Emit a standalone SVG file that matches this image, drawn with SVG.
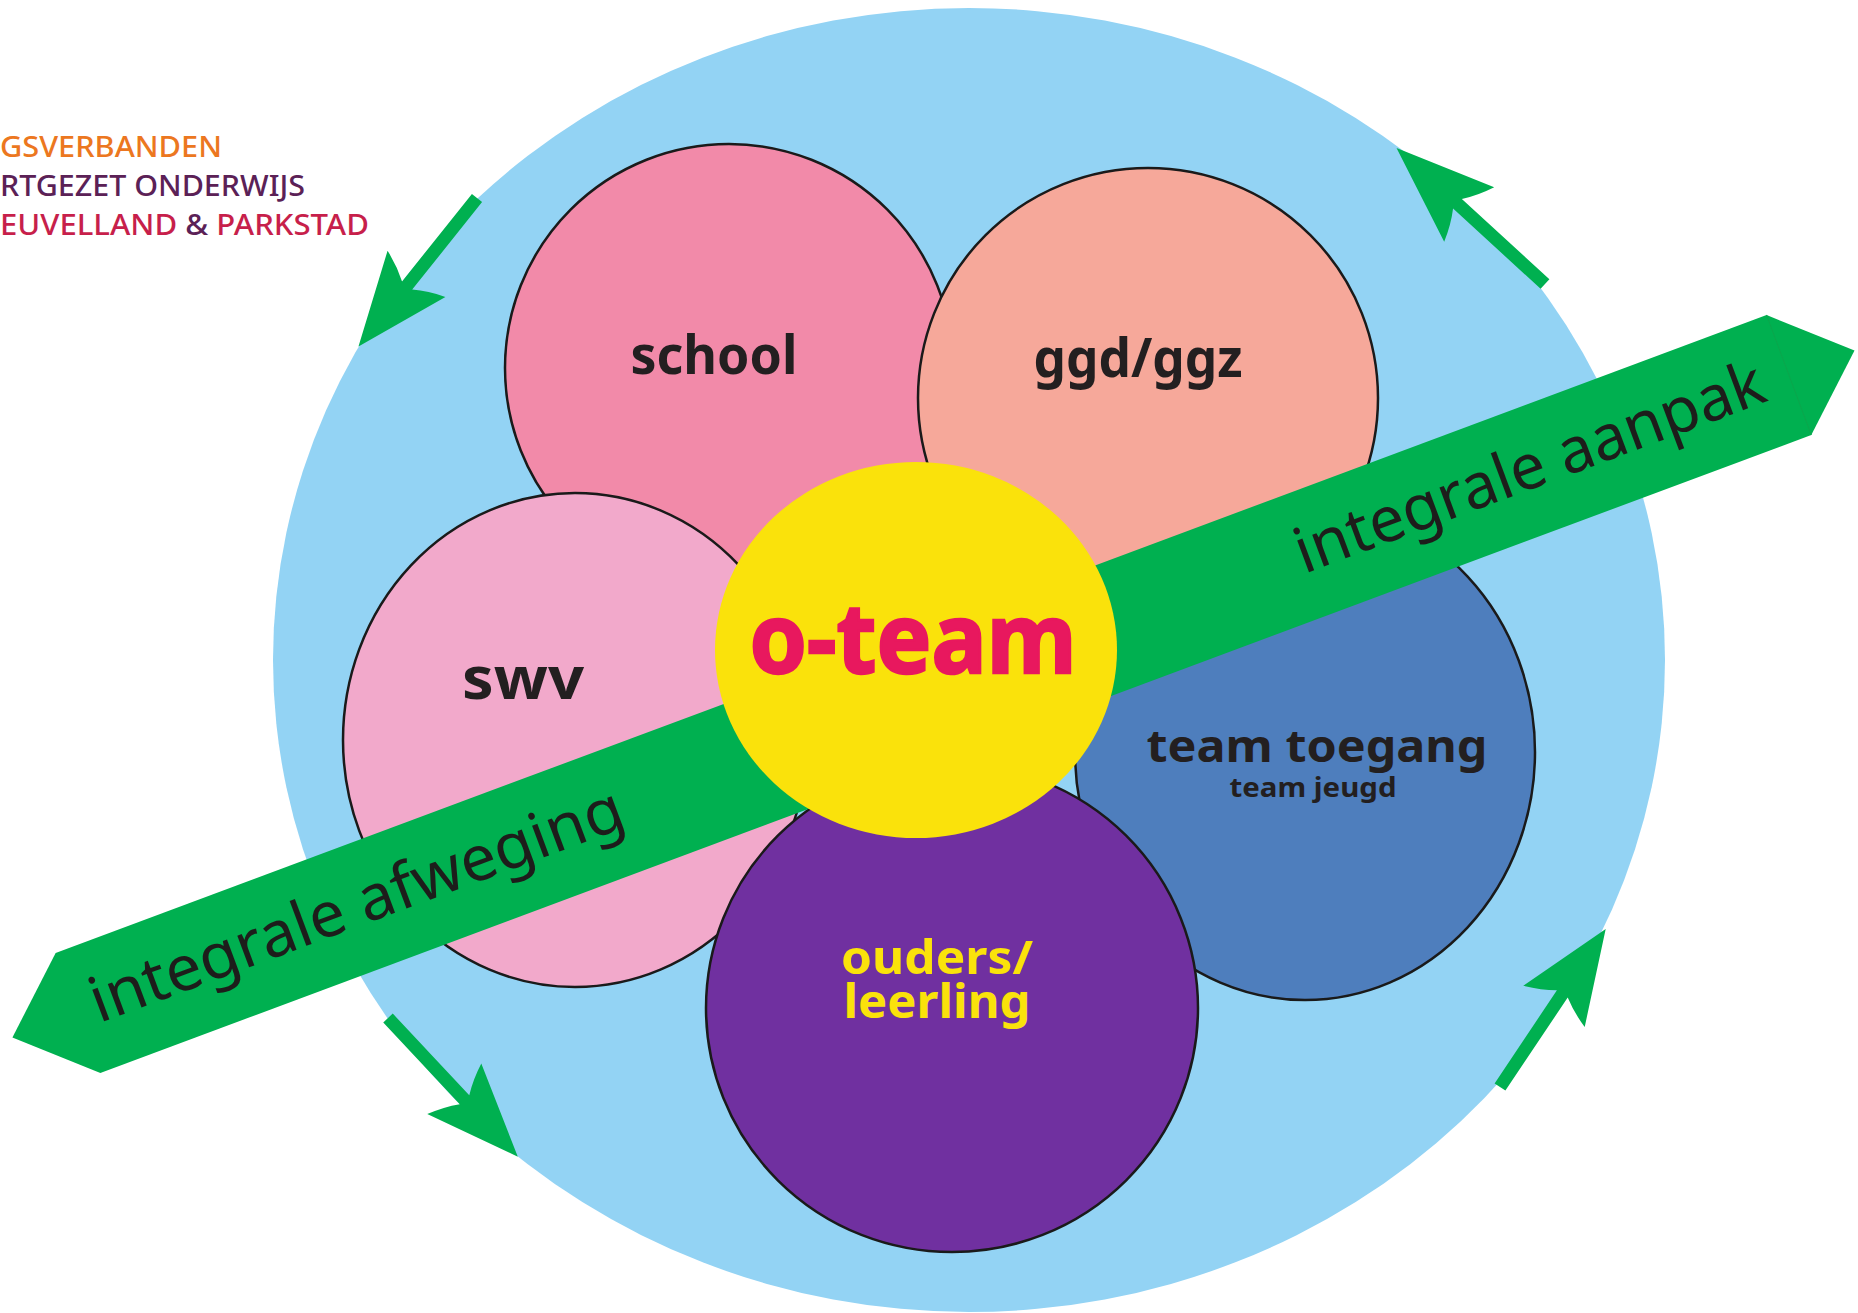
<svg xmlns="http://www.w3.org/2000/svg" xmlns:xlink="http://www.w3.org/1999/xlink" width="1858" height="1313" viewBox="0 0 1858 1313">
<style>
.node{stroke:#1a1a1a;stroke-width:2.5}
.lbl{font-family:"Noto Sans","Open Sans",sans-serif;font-weight:700;fill:#231F20;text-anchor:middle}
.band-txt{font-family:"Noto Sans","Open Sans",sans-serif;font-weight:400;fill:#1d1d1b;font-size:63px}
.hdr{font-family:"Noto Sans","Open Sans",sans-serif;font-weight:500;font-size:29px}
.arw{fill:#00B050}
</style>
<defs>
<path id="arr" d="M0,-6.5 L112,-6.5 Q103,-20 97,-37 L190,0 L97,37 Q103,20 112,6.5 L0,6.5 Z"/>
</defs>
<rect width="1858" height="1313" fill="#ffffff"/>
<g id="header">
<text class="hdr" x="0" y="157" fill="#EC7720" textLength="222" lengthAdjust="spacingAndGlyphs">GSVERBANDEN</text>
<text class="hdr" x="0" y="196" fill="#5B2156" textLength="305" lengthAdjust="spacingAndGlyphs">RTGEZET ONDERWIJS</text>
<text class="hdr" x="0" y="235" fill="#C71F4B" textLength="369" lengthAdjust="spacingAndGlyphs">EUVELLAND <tspan fill="#5B2156">&amp;</tspan> PARKSTAD</text>
</g>
<g id="ring">
<ellipse cx="969" cy="660" rx="696" ry="652" fill="#93D3F4"/>
</g>
<g id="school">
<circle class="node" cx="729" cy="368" r="224" fill="#F28AA9"/>
<text class="lbl" x="714" y="374" font-size="53" textLength="167" lengthAdjust="spacingAndGlyphs">school</text>
</g>
<g id="team-toegang">
<ellipse class="node" cx="1305" cy="752" rx="230" ry="248" fill="#4E7EBD"/>
<text class="lbl"><tspan x="1317" y="762" font-size="45" textLength="341" lengthAdjust="spacingAndGlyphs">team toegang</tspan><tspan x="1313" y="797" font-size="27" textLength="167" lengthAdjust="spacingAndGlyphs">team jeugd</tspan></text>
</g>
<g id="ggd">
<circle class="node" cx="1148" cy="398" r="230" fill="#F6A89A"/>
<text class="lbl" x="1138" y="377" font-size="53" textLength="209" lengthAdjust="spacingAndGlyphs">ggd/ggz</text>
</g>
<g id="swv">
<ellipse class="node" cx="575" cy="740" rx="232" ry="247" fill="#F2A9CB"/>
<text class="lbl" x="523" y="699" font-size="60" textLength="122" lengthAdjust="spacingAndGlyphs">swv</text>
</g>
<g id="ouders-leerling">
<ellipse class="node" cx="952" cy="1008" rx="246" ry="244" fill="#7030A0"/>
<text class="lbl" font-size="47" style="fill:#FAE20B"><tspan x="937" y="974" textLength="192" lengthAdjust="spacingAndGlyphs">ouders/</tspan><tspan x="937" y="1018" textLength="187" lengthAdjust="spacingAndGlyphs">leerling</tspan></text>
</g>
<g id="band" transform="translate(78,1013) rotate(-20.45)">
<path d="M0,-64 L1826,-64 L1896,0 L1826,64 L0,64 L-70,0 Z" fill="#00B050"/>
<line x1="1826" y1="-64" x2="1826" y2="64" stroke="#0aa64c" stroke-width="1"/>
<text class="band-txt" x="16" y="17" textLength="565" lengthAdjust="spacingAndGlyphs">integrale afweging</text>
<text class="band-txt" x="1302" y="17" textLength="497" lengthAdjust="spacingAndGlyphs">integrale aanpak</text>
</g>
<g id="o-team">
<ellipse cx="916" cy="650" rx="201" ry="188" fill="#FAE20B"/>
<text class="lbl" x="913" y="673" font-size="96" style="fill:#E8185E;stroke:#E8185E;stroke-width:2.5" textLength="327" lengthAdjust="spacingAndGlyphs">o-team</text>
</g>
<g id="connectors" class="arw">
<use xlink:href="#arr" href="#arr" transform="translate(477,198) rotate(128.6)"/>
<use xlink:href="#arr" href="#arr" transform="translate(1545,284) rotate(-137.5) scale(1.06,1)"/>
<use xlink:href="#arr" href="#arr" transform="translate(388,1018) rotate(46.9)"/>
<use xlink:href="#arr" href="#arr" transform="translate(1500,1087) rotate(-56.2)"/>
</g>
</svg>
